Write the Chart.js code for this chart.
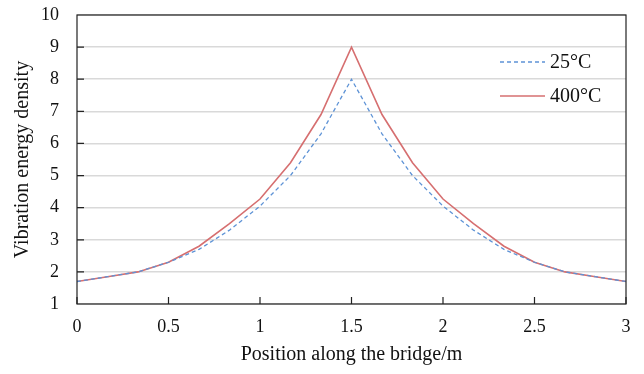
<!DOCTYPE html>
<html>
<head>
<meta charset="utf-8">
<script src="https://cdn.jsdelivr.net/npm/chart.js@4/dist/chart.umd.min.js"></script>
<style>
  html, body { margin: 0; padding: 0; background: #fff; }
  canvas { display: block; }
</style>
</head>
<body>
<canvas id="chart" width="644" height="374"></canvas>
<script>
// positions along the bridge (m), every 1/6 m
var positions = [0, 1/6, 2/6, 0.5, 4/6, 5/6, 1, 7/6, 8/6, 1.5, 10/6, 11/6, 2, 13/6, 14/6, 2.5, 16/6, 17/6, 3];
var energy25 = [1.7, 1.85, 2.0, 2.3, 2.7, 3.3, 4.05, 5.0, 6.3, 8.0, 6.3, 5.0, 4.05, 3.3, 2.7, 2.3, 2.0, 1.85, 1.7];
var energy400 = [1.7, 1.85, 2.0, 2.3, 2.8, 3.5, 4.27, 5.4, 6.9, 9.0, 6.9, 5.4, 4.27, 3.5, 2.8, 2.3, 2.0, 1.85, 1.7];
var seriesNames = ["25\u00B0C", "400\u00B0C"];
var xTicks = [0, 0.5, 1, 1.5, 2, 2.5, 3];

var blue = "#5e93d6";
var red = "#d66f70";
var font = "'Liberation Serif', 'Times New Roman', serif";

function toPoints(xs, ys) {
	var pts = [];
	for (var i = 0; i < xs.length; i++) {
		pts.push({ x : xs[i], y : ys[i] });
	}
	return pts;
}

// box around the plot, inside tick marks and the legend in the top right
var frame = {
	id : "frame",
	afterDraw : function(chart) {
		var ctx = chart.ctx;
		var a = chart.chartArea;
		var xs = chart.scales.x, ys = chart.scales.y;
		ctx.save();
		ctx.strokeStyle = "#222";
		ctx.lineWidth = 1.2;
		ctx.strokeRect(a.left, a.top, a.right - a.left, a.bottom - a.top);
		ctx.beginPath();
		xTicks.forEach(function(v) {
			var px = xs.getPixelForValue(v);
			ctx.moveTo(px, a.bottom);
			ctx.lineTo(px, a.bottom - 7);
		});
		for (var v = 2; v < 10; v++) {
			var py = ys.getPixelForValue(v);
			ctx.moveTo(a.left, py);
			ctx.lineTo(a.left + 7, py);
		}
		ctx.stroke();

		// legend
		var lx = 500, ly = 62;
		chart.data.datasets.forEach(function(ds, i) {
			var y = ly + i * 34;
			ctx.beginPath();
			ctx.strokeStyle = ds.borderColor;
			ctx.lineWidth = ds.borderWidth;
			ctx.setLineDash(ds.borderDash || []);
			ctx.moveTo(lx, y);
			ctx.lineTo(lx + 45, y);
			ctx.stroke();
			ctx.setLineDash([]);
			ctx.fillStyle = "#111";
			ctx.font = "20px " + font;
			ctx.textBaseline = "middle";
			ctx.fillText(ds.label, lx + 50, y + 1);
		});
		ctx.restore();
	}
};

var ctx = document.getElementById("chart");

var data = {
	datasets : [
		{
			label : seriesNames[0],
			data : toPoints(positions, energy25),
			borderColor : blue,
			backgroundColor : blue,
			borderWidth : 1.3,
			borderDash : [4, 3],
			pointRadius : 0,
			tension : 0,
			fill : false
		},
		{
			label : seriesNames[1],
			data : toPoints(positions, energy400),
			borderColor : red,
			backgroundColor : red,
			borderWidth : 1.6,
			pointRadius : 0,
			tension : 0,
			fill : false
		}
	]
};

var options = {
	responsive : false,
	animation : false,
	devicePixelRatio : 1,
	layout : { padding : { left : 0, right : 18, top : 15, bottom : 7 } },
	plugins : {
		legend : { display : false },
		tooltip : { enabled : false }
	},
	scales : {
		x : {
			type : "linear",
			min : 0,
			max : 3,
			afterBuildTicks : function(scale) {
				scale.ticks = xTicks.map(function(v) { return { value : v }; });
			},
			afterFit : function(scale) {
				scale.height = 63;
				scale.paddingLeft = 0;
				scale.paddingRight = 0;
			},
			grid : { display : false, drawTicks : false },
			border : { display : false },
			ticks : {
				padding : 12,
				color : "#111",
				font : { family : font, size : 18 },
				maxRotation : 0,
				callback : function(v) { return String(v); }
			},
			title : {
				display : true,
				text : "Position along the bridge/m",
				color : "#111",
				font : { family : font, size : 20 },
				padding : { top : 3, bottom : 0 }
			}
		},
		y : {
			min : 1,
			max : 10,
			afterFit : function(scale) {
				scale.width = 77;
				scale.paddingTop = 0;
				scale.paddingBottom = 0;
			},
			grid : { color : "#d9d9d9", lineWidth : 1.5, drawTicks : false },
			border : { display : false },
			ticks : {
				stepSize : 1,
				padding : 18,
				color : "#111",
				font : { family : font, size : 18 }
			},
			title : {
				display : true,
				text : "Vibration energy density",
				color : "#111",
				font : { family : font, size : 20 },
				padding : { top : 11, bottom : 0 }
			}
		}
	}
};

var chart = new Chart(ctx, {
	type : "line",
	data : data,
	options : options,
	plugins : [frame]
});
</script>
</body>
</html>
